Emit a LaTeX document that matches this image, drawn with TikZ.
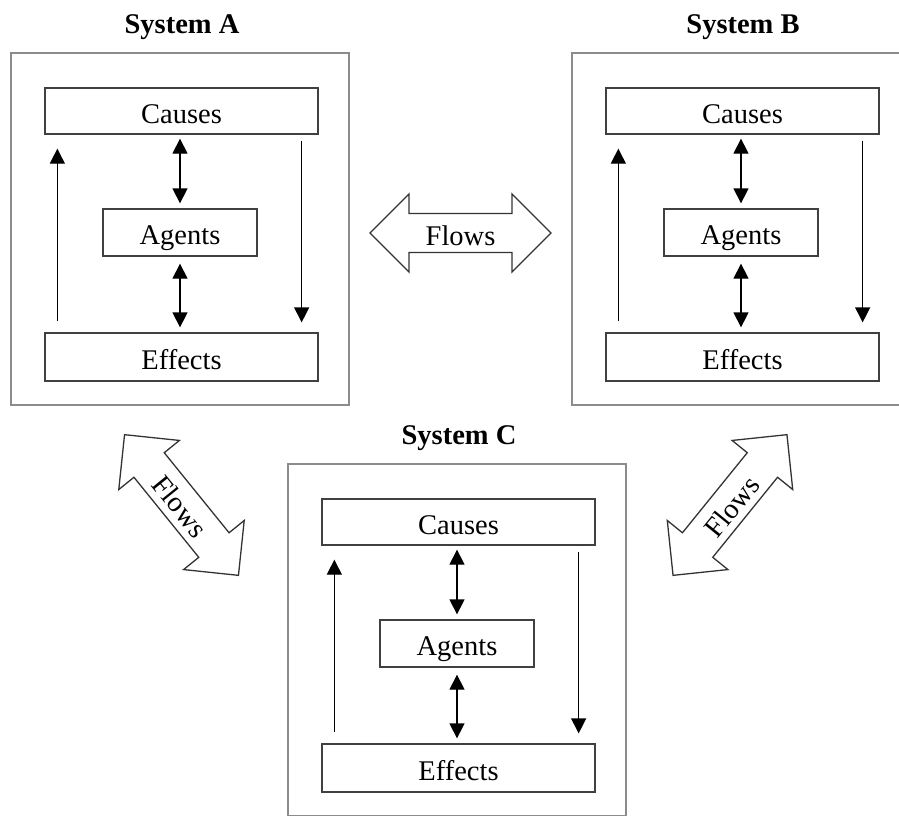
\documentclass[tikz,border=0pt]{standalone}
\usepackage{fontspec}
\setmainfont{Liberation Serif}
\usetikzlibrary{arrows.meta}
\tikzset{
  outerbox/.style={draw=black!45, line width=1.3pt},
  innerbox/.style={draw=black!75, line width=1.3pt, rectangle, inner sep=0pt,
    text height=24pt, text depth=0pt,
    font=\fontsize{28.5}{34}\selectfont},
  systitle/.style={inner sep=0pt, text height=24pt, text depth=0pt,
    font=\fontsize{28.5}{34}\selectfont\bfseries},
  arr/.style={draw=black, line width=1.3pt, -{Triangle[length=15pt,width=15pt]}},
  darr/.style={draw=black, line width=1.3pt, {Triangle[length=15pt,width=15pt]}-{Triangle[length=15pt,width=15pt]}},
  flowlabel/.style={inner sep=0pt, text height=24pt, text depth=0pt,
    font=\fontsize{28.5}{34}\selectfont},
  flowshape/.style={draw=black!80, line width=1.3pt, line join=miter}
}
\newcommand\sysblock[4]{%
\begin{scope}[shift={(#2,#3)}]
  \draw[outerbox] (11,53) rectangle (349,405);
  \node[systitle] (#1-title) at (182,21) {#4};
  \node[innerbox, minimum width=273pt, minimum height=46pt] (#1-causes) at (181.5,111) {Causes};
  \node[innerbox, minimum width=154pt, minimum height=47pt] (#1-agents) at (180,232.5) {Agents};
  \node[innerbox, minimum width=273pt, minimum height=48pt] (#1-effects) at (181.5,357) {Effects};
\end{scope}
\draw[darr, shorten <=4pt, shorten >=5pt] ([xshift=-1.5pt]#1-causes.south) -- (#1-agents.north);
\draw[darr, shorten <=7pt, shorten >=5pt] (#1-agents.south) -- ([xshift=-1.5pt]#1-effects.north);
\draw[arr] ([xshift=13pt,yshift=11pt]#1-effects.north west) -- ([xshift=13pt,yshift=-14pt]#1-causes.south west);
\draw[arr] ([xshift=-17pt,yshift=-6pt]#1-causes.south east) -- ([xshift=-17pt,yshift=10pt]#1-effects.north east);
}
\begin{document}
\begin{tikzpicture}[x=1pt,y=-1pt]
\useasboundingbox (0,0) rectangle (899,815);
\clip (0,0) rectangle (899,815);
\sysblock{A}{0}{0}{System A}
\sysblock{B}{561}{0}{System B}
\sysblock{C}{277}{411}{System C}
% flows arrows
\node[flowlabel] (flowsAB) at (460.5,233) {Flows};
\draw[flowshape, shift={(flowsAB.center)}] (-90.5,0) -- (-51.5,39) -- (-51.5,19.5) -- (51.5,19.5) -- (51.5,39) -- (90.5,0) -- (51.5,-39) -- (51.5,-19.5) -- (-51.5,-19.5) -- (-51.5,-39) -- cycle;
\node[flowlabel, rotate=-51] (flowsAC) at (181.5,505) {Flows};
\draw[flowshape, shift={(flowsAC.center)}, rotate=-51] (-90.5,0) -- (-51.5,39) -- (-51.5,19.5) -- (51.5,19.5) -- (51.5,39) -- (90.5,0) -- (51.5,-39) -- (51.5,-19.5) -- (-51.5,-19.5) -- (-51.5,-39) -- cycle;
\node[flowlabel, rotate=51] (flowsBC) at (730,505) {Flows};
\draw[flowshape, shift={(flowsBC.center)}, rotate=51] (-90.5,0) -- (-51.5,39) -- (-51.5,19.5) -- (51.5,19.5) -- (51.5,39) -- (90.5,0) -- (51.5,-39) -- (51.5,-19.5) -- (-51.5,-19.5) -- (-51.5,-39) -- cycle;
\end{tikzpicture}
\end{document}
